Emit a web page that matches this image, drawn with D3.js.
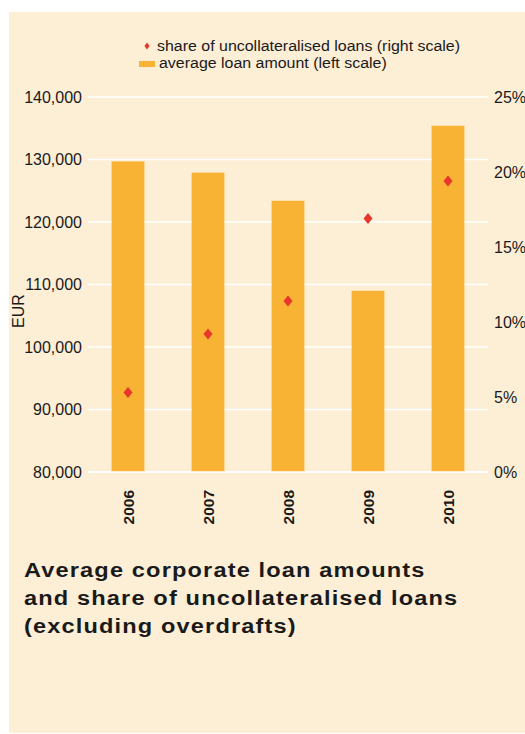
<!DOCTYPE html>
<html>
<head>
<meta charset="utf-8">
<script src="https://cdn.jsdelivr.net/npm/d3@7"></script>
<style>
  html, body { margin: 0; padding: 0; background: #ffffff; }
  svg { display: block; }
  text { font-family: "Liberation Sans", Arial, Helvetica, sans-serif; fill: #1a1a1a; }
</style>
</head>
<body>
<svg id="chart" width="525" height="734"></svg>
<script>
// Years on the x axis
const years = ["2006", "2007", "2008", "2009", "2010"];
// Average loan amount in EUR (left scale)
const loanAmount = [129700, 127900, 123400, 109000, 135400];
// Share of uncollateralised loans in % (right scale)
const uncollateralisedShare = [5.3, 9.2, 11.4, 16.9, 19.4];
// Tick values
const leftTicks = [80000, 90000, 100000, 110000, 120000, 130000, 140000];
const rightTicks = [0, 5, 10, 15, 20, 25];
// Legend entries and title
const legendLabels = ["share of uncollateralised loans (right scale)", "average loan amount (left scale)"];
const titleLines = ["Average corporate loan amounts", "and share of uncollateralised loans", "(excluding overdrafts)"];

const svg = d3.select("#chart");
const BG = "#fdeed6", BAR = "#f8b334", DOT = "#e8362d";

// Panel background
svg.append("rect").attr("x", 9).attr("y", 12).attr("width", 516).attr("height", 721).attr("fill", BG);

const plot = { left: 88, right: 488, top: 97, bottom: 472 };

const x = d3.scaleBand().domain(years).range([plot.left, plot.right]).paddingInner(0.59).paddingOuter(0.295);
const yLeft = d3.scaleLinear().domain([80000, 140000]).range([plot.bottom, plot.top]);
const yRight = d3.scaleLinear().domain([0, 25]).range([plot.bottom, plot.top]);

// Gridlines from the left axis
svg.append("g").selectAll("line").data(leftTicks).join("line")
  .attr("x1", plot.left).attr("x2", plot.right)
  .attr("y1", d => yLeft(d)).attr("y2", d => yLeft(d))
  .attr("stroke", "#ffffff").attr("stroke-width", 1.6);

// Left axis labels
const fmt = d3.format(",");
const leftAxis = d3.axisLeft(yLeft).tickValues(leftTicks).tickFormat(fmt).tickSize(0).tickPadding(6);
const gl = svg.append("g").attr("transform", `translate(${plot.left},0)`).call(leftAxis);
gl.select(".domain").remove();
gl.selectAll("text").attr("font-size", 16).attr("fill", "#1a1a1a")
  .style("font-family", "'Liberation Sans', Arial, sans-serif");

// Right axis labels
const rightAxis = d3.axisRight(yRight).tickValues(rightTicks).tickFormat(d => d + "%").tickSize(0).tickPadding(6);
const gr = svg.append("g").attr("transform", `translate(${plot.right},0)`).call(rightAxis);
gr.select(".domain").remove();
gr.selectAll("text").attr("font-size", 16).attr("fill", "#1a1a1a")
  .style("font-family", "'Liberation Sans', Arial, sans-serif");

// Left axis unit
svg.append("text")
  .attr("transform", `translate(24,311) rotate(-90)`)
  .attr("text-anchor", "middle")
  .attr("font-size", 16)
  .text("EUR");

// Bars
svg.append("g").selectAll("rect").data(years).join("rect")
  .attr("x", d => x(d))
  .attr("width", x.bandwidth())
  .attr("y", (d, i) => yLeft(loanAmount[i]))
  .attr("height", (d, i) => yLeft(80000) - yLeft(loanAmount[i]))
  .attr("fill", BAR);

// Redraw the baseline on top of the bars
svg.append("line")
  .attr("x1", plot.left).attr("x2", plot.right)
  .attr("y1", yLeft(80000)).attr("y2", yLeft(80000))
  .attr("stroke", "#ffffff").attr("stroke-width", 1.6);

// Diamond markers
const diamond = (w, h) => `M0,${-h / 2}L${w / 2},0L0,${h / 2}L${-w / 2},0Z`;
svg.append("g").selectAll("path").data(years).join("path")
  .attr("d", diamond(9, 11))
  .attr("transform", (d, i) => `translate(${x(d) + x.bandwidth() / 2},${yRight(uncollateralisedShare[i])})`)
  .attr("fill", DOT);

// Year labels, rotated
svg.append("g").selectAll("text").data(years).join("text")
  .attr("transform", d => `translate(${x(d) + x.bandwidth() / 2 + 5.5},490) rotate(-90)`)
  .attr("text-anchor", "end")
  .attr("font-size", 15.5)
  .attr("font-weight", "bold")
  .text(d => d);

// Legend (set in a slightly wide face)
svg.append("path").attr("d", diamond(5, 7)).attr("transform", "translate(147,46)").attr("fill", DOT);
svg.append("text").attr("transform", "translate(157,51) scale(1.1,1)").attr("font-size", 14.5).text(legendLabels[0]);
svg.append("rect").attr("x", 139).attr("y", 61).attr("width", 16).attr("height", 6).attr("fill", BAR);
svg.append("text").attr("transform", "translate(159,68) scale(1.1,1)").attr("font-size", 14.5).text(legendLabels[1]);

// Title (wide bold face with open tracking)
svg.append("g").selectAll("text").data(titleLines).join("text")
  .attr("transform", (d, i) => `translate(24,${577 + i * 28}) scale(1.15,1)`)
  .attr("font-size", 20.5)
  .attr("font-weight", "bold")
  .attr("letter-spacing", 1)
  .text(d => d);
</script>
</body>
</html>
